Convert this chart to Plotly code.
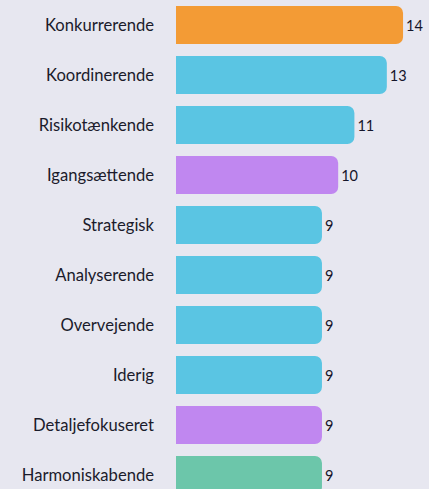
import plotly.graph_objects as go

categories = ["Konkurrerende", "Koordinerende", "Risikotænkende", "Igangsættende",
              "Strategisk", "Analyserende", "Overvejende", "Iderig",
              "Detaljefokuseret", "Harmoniskabende"]
values = [14, 13, 11, 10, 9, 9, 9, 9, 9, 9]
colors = ["#F39B35", "#5AC5E3", "#5AC5E3", "#C087F0", "#5AC5E3", "#5AC5E3",
          "#5AC5E3", "#5AC5E3", "#C087F0", "#6CC6AA"]

fig = go.Figure(go.Bar(
    x=values, y=categories, orientation="h",
    marker=dict(color=colors, line=dict(width=0)),
    text=[str(v) for v in values], textposition="outside",
    textfont=dict(family="Lato", size=14.5, color="#15152a"),
    cliponaxis=False, width=0.76, hoverinfo="skip",
))

fig.update_layout(
    width=429, height=489,
    margin=dict(l=176, r=0, t=0, b=0),
    paper_bgcolor="#E7E7F0", plot_bgcolor="#E7E7F0",
    barcornerradius=7,
    showlegend=False,
    xaxis=dict(range=[0, 15.6], visible=False, fixedrange=True),
    yaxis=dict(type="category", categoryorder="array", categoryarray=categories,
               range=[9.28, -0.5], showgrid=False, zeroline=False, showline=False,
               ticks="", ticklabelstandoff=21, fixedrange=True,
               tickfont=dict(family="Lato", size=16.6, color="#1b1b2b")),
)

fig.write_html("out.html", config={"displayModeBar": False},
               post_script="document.body.style.margin='0';document.body.style.background='#E7E7F0';")
